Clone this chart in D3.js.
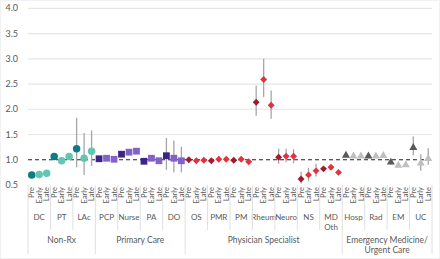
<!DOCTYPE html>
<html>
<head>
<meta charset="UTF-8">
<script src="https://d3js.org/d3.v7.min.js"></script>
<style>
  body { margin: 0; background: #fff; }
  svg text { font-family: Lato, "Open Sans", sans-serif; fill: #595959; }
</style>
</head>
<body>
<div id="viz"></div>
<script>
// groups (providers) and their sector
const groups = ["DC", "PT", "LAc", "PCP", "Nurse", "PA", "DO", "OS", "PMR", "PM", "Rheum", "Neuro", "NS", "MD Oth", "Hosp", "Rad", "EM", "UC"];
const periods = ["Pre", "Early", "Late"];
const sectorNames = ["Non-Rx", "Primary Care", "Physician Specialist", "Emergency Medicine/Urgent Care"];
const sectorSizes = [3, 4, 7, 4];
const yTicks = [0.5, 1.0, 1.5, 2.0, 2.5, 3.0, 3.5, 4.0];

// estimate, lower and upper CI, in order group x period
const estimates = [
  0.70, 0.71, 0.735,  1.065, 0.98, 1.065,  1.22, 1.03, 1.17,
  1.02, 1.03, 1.01,   1.11, 1.15, 1.17,    0.97, 1.03, 0.98,   1.08, 1.03, 0.98,
  1.00, 0.98, 0.99,   0.98, 1.01, 1.01,    0.99, 1.01, 0.96,   2.14, 2.59, 2.08,
  1.05, 1.07, 1.07,   0.62, 0.70, 0.78,    0.82, 0.85, 0.75,
  1.085, 1.07, 1.07,  1.07, 1.07, 1.08,    0.95, 0.89, 0.90,   1.24, 0.93, 1.02
];
const lower = [
  0.68, 0.69, 0.71,   1.03, 0.95, 1.03,    0.85, 0.70, 0.88,
  1.00, 1.01, 0.99,   1.09, 1.13, 1.15,    0.95, 1.01, 0.96,   0.80, 0.75, 0.75,
  0.97, 0.95, 0.96,   0.94, 0.96, 0.96,    0.95, 0.96, 0.92,   1.87, 2.24, 1.81,
  0.92, 0.95, 0.93,   0.53, 0.57, 0.67,    0.79, 0.82, 0.72,
  1.06, 1.05, 1.05,   1.05, 1.05, 1.06,    0.90, 0.86, 0.87,   1.09, 0.78, 0.90
];
const upper = [
  0.72, 0.73, 0.76,   1.10, 1.01, 1.10,    1.83, 1.53, 1.58,
  1.04, 1.05, 1.03,   1.13, 1.17, 1.19,    0.99, 1.05, 1.00,   1.43, 1.38, 1.26,
  1.03, 1.01, 1.02,   1.02, 1.07, 1.06,    1.03, 1.05, 1.00,   2.47, 3.00, 2.37,
  1.22, 1.22, 1.21,   0.76, 0.84, 0.92,    0.85, 0.88, 0.78,
  1.11, 1.09, 1.09,   1.09, 1.09, 1.10,    1.00, 0.92, 0.93,   1.46, 1.11, 1.23
];

const sectorStyle = [
  { shape: d3.symbolCircle, size: 44, dark: "#0f7b85", light: "#62c6b3", rot: 0 },
  { shape: d3.symbolSquare, size: 46, dark: "#3d2585", light: "#8262c8", rot: 0 },
  { shape: d3.symbolSquare, size: 24, dark: "#a01c2c", light: "#e2323f", rot: 45 },
  { shape: d3.symbolTriangle, size: 28, dark: "#595959", light: "#bfbfbf", rot: 0 }
];

const width = 440, height = 259;
const plotLeft = 28, plotRight = 432, plotTop = 8.3, plotBottom = 185;

// sector index for each group
const groupSector = [];
sectorSizes.forEach((n, i) => { for (let k = 0; k < n; k++) groupSector.push(i); });

const points = [];
groups.forEach((g, gi) => periods.forEach((p, pi) => {
  const i = gi * 3 + pi;
  points.push({ id: i, group: g, period: p, sector: groupSector[gi],
    est: estimates[i], lo: lower[i], hi: upper[i] });
}));

const svg = d3.select("#viz").append("svg")
  .attr("width", width).attr("height", height);

svg.append("rect")
  .attr("x", 0.5).attr("y", 0.5).attr("width", width - 1).attr("height", height - 1)
  .attr("fill", "none").attr("stroke", "#e3e3e3").attr("stroke-dasharray", "1,1");

const x = d3.scaleBand().domain(points.map(d => d.id)).range([plotLeft, plotRight]);
const xg = d3.scaleBand().domain(groups).range([plotLeft, plotRight]);
const y = d3.scaleLinear().domain([0.5, 4.0]).range([plotBottom, plotTop]);

// gridlines
svg.append("g").selectAll("line")
  .data(yTicks.filter(t => t !== 1.0 && t !== 0.5))
  .join("line")
  .attr("x1", plotLeft).attr("x2", plotRight)
  .attr("y1", d => y(d)).attr("y2", d => y(d))
  .attr("stroke", "#e6e6e6").attr("stroke-width", 1.2);

// y tick labels
svg.append("g").selectAll("text")
  .data(yTicks)
  .join("text")
  .attr("x", 18).attr("y", d => y(d))
  .attr("dy", "0.35em")
  .attr("text-anchor", "end")
  .style("font-size", "9px")
  .text(d => d.toFixed(1));

// reference line at 1
svg.append("line")
  .attr("x1", plotLeft).attr("x2", plotRight)
  .attr("y1", y(1)).attr("y2", y(1))
  .attr("stroke", "#222").attr("stroke-width", 1.1)
  .attr("stroke-dasharray", "4,3");

// error bars
svg.append("g").selectAll("line")
  .data(points)
  .join("line")
  .attr("x1", d => x(d.id) + x.bandwidth() / 2)
  .attr("x2", d => x(d.id) + x.bandwidth() / 2)
  .attr("y1", d => y(d.lo)).attr("y2", d => y(d.hi))
  .attr("stroke", "#a6a6a6").attr("stroke-width", 1.3);

// markers
svg.append("g").selectAll("path")
  .data(points)
  .join("path")
  .attr("d", d => d3.symbol().type(sectorStyle[d.sector].shape).size(sectorStyle[d.sector].size)())
  .attr("transform", d => `translate(${x(d.id) + x.bandwidth() / 2},${y(d.est)}) rotate(${sectorStyle[d.sector].rot})`)
  .attr("fill", d => d.period === "Pre" ? sectorStyle[d.sector].dark : sectorStyle[d.sector].light);

// period labels (rotated)
svg.append("g").selectAll("text")
  .data(points)
  .join("text")
  .attr("transform", d => `translate(${x(d.id) + x.bandwidth() / 2},187) rotate(-90)`)
  .attr("text-anchor", "end")
  .attr("dy", "0.35em")
  .style("font-size", "7.5px")
  .text(d => d.period);

// group labels
const gl = svg.append("g").selectAll("text")
  .data(groups)
  .join("text")
  .attr("x", d => xg(d) + xg.bandwidth() / 2)
  .attr("y", 220)
  .attr("text-anchor", "middle")
  .style("font-size", "8px");
gl.each(function (d) {
  const parts = d.split(" ");
  d3.select(this).selectAll("tspan").data(parts).join("tspan")
    .attr("x", xg(d) + xg.bandwidth() / 2)
    .attr("dy", (p, i) => i === 0 ? 0 : 10)
    .text(p => p);
});

// separators
const sectorStart = [0];
sectorSizes.forEach((n, i) => sectorStart.push(sectorStart[i] + n));
svg.append("g").selectAll("line")
  .data(d3.range(groups.length + 1))
  .join("line")
  .attr("x1", i => i < groups.length ? xg(groups[i]) : plotRight)
  .attr("x2", i => i < groups.length ? xg(groups[i]) : plotRight)
  .attr("y1", plotBottom)
  .attr("y2", i => sectorStart.includes(i) ? 254 : 230)
  .attr("stroke", "#e0e0e0").attr("stroke-width", 1);

// sector labels
sectorNames.forEach((name, i) => {
  const x0 = xg(groups[sectorStart[i]]);
  const x1 = sectorStart[i + 1] < groups.length ? xg(groups[sectorStart[i + 1]]) : plotRight;
  const lines = name.includes("/") ? [name.split("/")[0] + "/", name.split("/")[1]] : [name];
  const t = svg.append("text")
    .attr("x", (x0 + x1) / 2).attr("y", 243)
    .attr("text-anchor", "middle")
    .style("font-size", "8.5px");
  t.selectAll("tspan").data(lines).join("tspan")
    .attr("x", (x0 + x1) / 2)
    .attr("dy", (l, k) => k === 0 ? 0 : 10)
    .text(l => l);
});
</script>
</body>
</html>
